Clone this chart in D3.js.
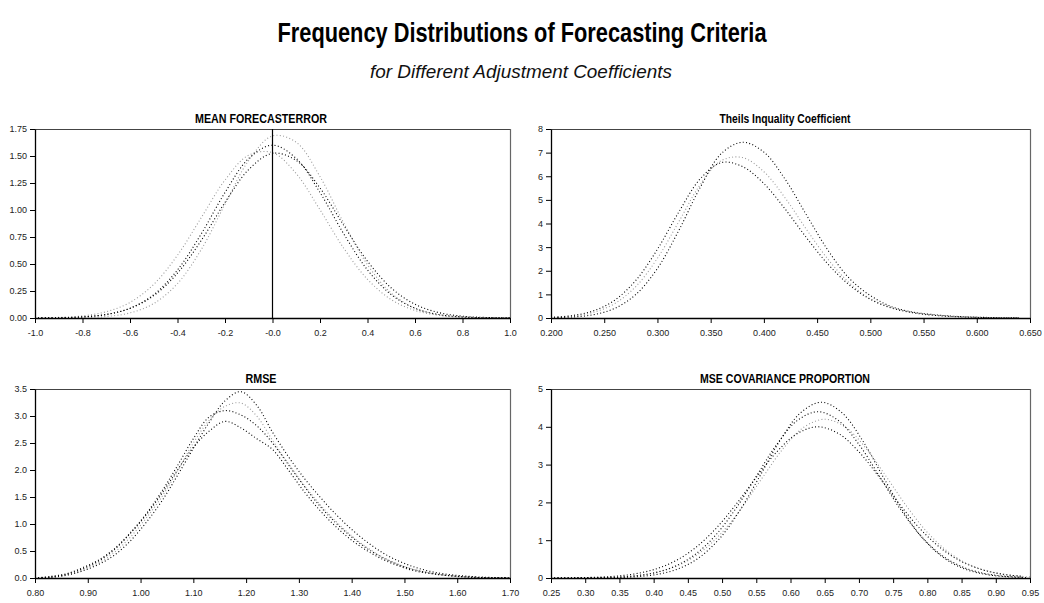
<!DOCTYPE html>
<html><head><meta charset="utf-8">
<script src="https://cdn.jsdelivr.net/npm/d3@7"></script>
<style>
body{margin:0;background:#fff}
text{font-family:"Liberation Sans Narrow","Arial Narrow","Liberation Sans",sans-serif}
</style>
</head><body>
<svg id="c" width="1044" height="603"></svg>
<script>
// ---------- Titles ----------
const mainTitle = "Frequency Distributions of Forecasting Criteria";
const subTitle = "for Different Adjustment Coefficients";
const panelTitles = ["MEAN FORECASTERROR","Theils Inquality Coefficient","RMSE","MSE COVARIANCE PROPORTION"];

// ---------- Panel 1: Mean forecast error ----------
const mfeX = [-1.0,-0.9,-0.8,-0.7,-0.6,-0.5,-0.4,-0.3,-0.2,-0.1,0.0,0.1,0.2,0.3,0.4,0.5,0.6,0.7,0.8,0.9,1.0];
const mfeA = [0.000,0.001,0.003,0.014,0.047,0.134,0.319,0.634,1.053,1.459,1.686,1.627,1.309,0.879,0.493,0.230,0.090,0.029,0.008,0.002,0.000];
const mfeB = [0.001,0.002,0.010,0.032,0.090,0.216,0.445,0.779,1.162,1.477,1.600,1.477,1.162,0.779,0.445,0.216,0.090,0.032,0.010,0.002,0.001];
const mfeC = [0.001,0.003,0.011,0.033,0.089,0.207,0.415,0.718,1.070,1.375,1.525,1.459,1.204,0.857,0.526,0.278,0.127,0.050,0.017,0.005,0.001];
const mfeD = [0.002,0.006,0.020,0.058,0.144,0.312,0.581,0.929,1.277,1.508,1.531,1.336,1.002,0.646,0.358,0.170,0.070,0.025,0.007,0.002,0.000];
const mfeXTicks = [-1.0,-0.8,-0.6,-0.4,-0.2,0.0,0.2,0.4,0.6,0.8,1.0];
const mfeXLabels = ["-1.0","-0.8","-0.6","-0.4","-0.2","-0.0","0.2","0.4","0.6","0.8","1.0"];
const mfeYTicks = [0,0.25,0.5,0.75,1.0,1.25,1.5,1.75];
const mfeYLabels = ["0.00","0.25","0.50","0.75","1.00","1.25","1.50","1.75"];

// ---------- Panel 2: Theil's inequality coefficient ----------
const thX = [0.20,0.22,0.24,0.26,0.28,0.30,0.32,0.34,0.36,0.38,0.40,0.42,0.44,0.46,0.48,0.50,0.52,0.54,0.56,0.58,0.60,0.62,0.64];
const thE = [0.010,0.041,0.141,0.410,1.008,2.10,3.70,5.51,6.96,7.44,7.02,5.87,4.36,2.88,1.69,0.95,0.48,0.25,0.14,0.07,0.035,0.015,0.006];
const thF = [0.023,0.081,0.240,0.614,1.346,2.53,4.07,5.63,6.66,6.79,6.19,5.08,3.75,2.50,1.50,0.81,0.45,0.24,0.13,0.065,0.030,0.012,0.004];
const thG = [0.030,0.104,0.305,0.759,1.61,2.91,4.48,5.88,6.58,6.41,5.69,4.61,3.40,2.29,1.41,0.79,0.42,0.22,0.11,0.055,0.025,0.010,0.004];
const thXTicks = [0.20,0.25,0.30,0.35,0.40,0.45,0.50,0.55,0.60,0.65];
const thXLabels = ["0.200","0.250","0.300","0.350","0.400","0.450","0.500","0.550","0.600","0.650"];
const thYTicks = [0,1,2,3,4,5,6,7,8];
const thYLabels = ["0","1","2","3","4","5","6","7","8"];

// ---------- Panel 3: RMSE ----------
const rmX = [0.80,0.83,0.86,0.89,0.92,0.95,0.98,1.01,1.04,1.07,1.10,1.13,1.16,1.19,1.22,1.25,1.28,1.31,1.34,1.37,1.40,1.43,1.46,1.49,1.52,1.55,1.58,1.61,1.64,1.67,1.70];
const rmH = [0.0,0.01,0.05,0.13,0.25,0.42,0.68,1.02,1.42,1.90,2.40,2.88,3.28,3.45,3.20,2.70,2.25,1.85,1.50,1.18,0.90,0.66,0.46,0.31,0.20,0.12,0.07,0.04,0.02,0.008,0.003];
const rmI = [0.0,0.02,0.06,0.15,0.28,0.47,0.75,1.10,1.50,1.98,2.50,2.92,3.18,3.24,3.00,2.55,2.12,1.72,1.36,1.05,0.78,0.56,0.38,0.25,0.15,0.09,0.05,0.025,0.01,0.004,0.001];
const rmJ = [0.0,0.03,0.08,0.19,0.33,0.54,0.83,1.18,1.60,2.08,2.58,2.98,3.10,3.02,2.82,2.50,2.10,1.70,1.33,1.02,0.76,0.54,0.37,0.24,0.15,0.09,0.05,0.025,0.01,0.004,0.001];
const rmK = [0.0,0.02,0.07,0.17,0.31,0.52,0.82,1.16,1.56,2.00,2.42,2.72,2.90,2.78,2.58,2.38,2.00,1.60,1.25,0.95,0.70,0.50,0.34,0.22,0.13,0.08,0.045,0.022,0.01,0.004,0.001];
const rmXTicks = [0.8,0.9,1.0,1.1,1.2,1.3,1.4,1.5,1.6,1.7];
const rmXLabels = ["0.80","0.90","1.00","1.10","1.20","1.30","1.40","1.50","1.60","1.70"];
const rmYTicks = [0,0.5,1.0,1.5,2.0,2.5,3.0,3.5];
const rmYLabels = ["0.0","0.5","1.0","1.5","2.0","2.5","3.0","3.5"];

// ---------- Panel 4: MSE covariance proportion ----------
const mcX  = [0.25,0.28,0.31,0.34,0.37,0.40,0.43,0.46,0.49,0.52,0.55,0.58,0.61,0.64,0.67,0.70,0.73,0.76,0.79,0.82,0.85,0.88,0.91,0.94];
const mcXL = [0.255,0.285,0.315,0.345,0.375,0.405,0.435,0.465,0.495,0.525,0.555,0.585,0.615,0.645,0.675,0.705,0.735,0.765,0.795,0.825,0.855,0.885,0.915,0.945];
const mcXN = [0.26,0.29,0.32,0.35,0.38,0.41,0.44,0.47,0.50,0.53,0.56,0.59,0.62,0.65,0.68,0.71,0.74,0.77,0.80,0.83,0.86,0.89,0.92,0.95];
const mcL = [0.000,0.001,0.003,0.011,0.034,0.095,0.236,0.520,1.016,1.757,2.688,3.646,4.375,4.650,4.375,3.646,2.688,1.757,1.016,0.520,0.236,0.095,0.034,0.011];
const mcM = [0.000,0.002,0.006,0.019,0.052,0.133,0.302,0.614,1.121,1.834,2.690,3.535,4.166,4.400,4.166,3.535,2.690,1.834,1.121,0.614,0.302,0.133,0.052,0.019];
const mcN = [0.001,0.003,0.010,0.029,0.074,0.173,0.365,0.698,1.207,1.891,2.681,3.440,3.995,4.200,3.995,3.440,2.681,1.891,1.207,0.698,0.365,0.173,0.074,0.029];
const mcO = [0.002,0.006,0.017,0.043,0.102,0.221,0.435,0.784,1.290,1.938,2.661,3.338,3.823,4.000,3.823,3.338,2.661,1.938,1.290,0.784,0.435,0.221,0.102,0.043];
const mcXTicks = [0.25,0.30,0.35,0.40,0.45,0.50,0.55,0.60,0.65,0.70,0.75,0.80,0.85,0.90,0.95];
const mcXLabels = ["0.25","0.30","0.35","0.40","0.45","0.50","0.55","0.60","0.65","0.70","0.75","0.80","0.85","0.90","0.95"];
const mcYTicks = [0,1,2,3,4,5];
const mcYLabels = ["0","1","2","3","4","5"];

const BLACK = "#000", GREY = "#9a9a9a";

const svg = d3.select("#c");

svg.append("text").attr("x",522).attr("y",42).attr("text-anchor","middle")
  .attr("font-size",27).attr("font-weight","bold").attr("fill","#000")
  .attr("textLength",489).attr("lengthAdjust","spacingAndGlyphs").text(mainTitle);
svg.append("text").attr("x",521).attr("y",78).attr("text-anchor","middle")
  .attr("font-size",18).attr("font-style","italic").attr("fill","#111")
  .attr("textLength",302).attr("lengthAdjust","spacingAndGlyphs").text(subTitle);

let clipId = 0;
function drawPanel(p){
  const g = svg.append("g");
  const x = d3.scaleLinear().domain([p.xTicks[0], p.xTicks[p.xTicks.length-1]]).range([p.left,p.right]);
  const y = d3.scaleLinear().domain([p.yTicks[0], p.yTicks[p.yTicks.length-1]]).range([p.bottom,p.top]);
  const cid = "clip" + (clipId++);
  svg.append("clipPath").attr("id",cid).append("rect")
    .attr("x",p.left).attr("y",p.top).attr("width",p.right-p.left).attr("height",p.bottom-p.top);

  g.append("line").attr("x1",p.left).attr("x2",p.right).attr("y1",p.top+0.5).attr("y2",p.top+0.5)
    .attr("stroke","#444").attr("stroke-width",1.2);
  g.append("line").attr("x1",p.right+0.5).attr("x2",p.right+0.5).attr("y1",p.top).attr("y2",p.bottom)
    .attr("stroke","#666").attr("stroke-width",1.2);

  const plot = g.append("g").attr("clip-path",`url(#${cid})`);
  p.series.forEach(s=>{
    const xs = s.xs || p.xs;
    const line = d3.line().x((d,i)=>x(xs[i])).y(d=>y(Math.max(0,d))).curve(d3.curveCatmullRom);
    plot.append("path").attr("d",line(s.values)).attr("fill","none")
      .attr("stroke",s.color).attr("stroke-width",1.1).attr("stroke-dasharray","1 2.3");
  });

  if(p.zeroLine){
    g.append("line").attr("x1",x(0)).attr("x2",x(0)).attr("y1",p.top).attr("y2",p.bottom)
      .attr("stroke","#000").attr("stroke-width",1.2);
  }

  const ax = d3.axisBottom(x).tickValues(p.xTicks).tickFormat((d,i)=>p.xLabels[i])
    .tickSizeInner(5).tickSizeOuter(0).tickPadding(7);
  const ay = d3.axisLeft(y).tickValues(p.yTicks).tickFormat((d,i)=>p.yLabels[i])
    .tickSizeInner(5).tickSizeOuter(0).tickPadding(3);
  const gx = g.append("g").attr("transform",`translate(0,${p.bottom})`).call(ax);
  const gy = g.append("g").attr("transform",`translate(${p.left},0)`).call(ay);
  [gx,gy].forEach(a=>{
    a.select(".domain").attr("stroke","#000").attr("stroke-width",1.3);
    a.selectAll(".tick line").attr("stroke","#000");
    a.selectAll(".tick text").attr("fill","#222").attr("font-size",9)
      .attr("font-family",'"Liberation Sans Narrow","Arial Narrow","Liberation Sans",sans-serif');
  });

  g.append("text").attr("x",p.titleX).attr("y",p.top-6).attr("text-anchor","middle")
    .attr("font-size",12).attr("font-weight","bold").attr("fill","#000")
    .attr("textLength",p.titleW).attr("lengthAdjust","spacingAndGlyphs").text(p.title);
}

drawPanel({left:35,right:510,top:129,bottom:318,xs:mfeX,xTicks:mfeXTicks,xLabels:mfeXLabels,
  yTicks:mfeYTicks,yLabels:mfeYLabels,title:panelTitles[0],titleX:261,titleW:132,zeroLine:true,
  series:[{values:mfeA,color:GREY},{values:mfeD,color:GREY},{values:mfeB,color:BLACK},{values:mfeC,color:BLACK}]});
drawPanel({left:551,right:1030,top:129,bottom:318,xs:thX,xTicks:thXTicks,xLabels:thXLabels,
  yTicks:thYTicks,yLabels:thYLabels,title:panelTitles[1],titleX:785,titleW:131,
  series:[{values:thF,color:GREY},{values:thE,color:BLACK},{values:thG,color:BLACK}]});
drawPanel({left:35,right:510,top:389,bottom:578,xs:rmX,xTicks:rmXTicks,xLabels:rmXLabels,
  yTicks:rmYTicks,yLabels:rmYLabels,title:panelTitles[2],titleX:261,titleW:31,
  series:[{values:rmI,color:GREY},{values:rmH,color:BLACK},{values:rmJ,color:BLACK},{values:rmK,color:BLACK}]});
drawPanel({left:551,right:1030,top:389,bottom:578,xs:mcX,xTicks:mcXTicks,xLabels:mcXLabels,
  yTicks:mcYTicks,yLabels:mcYLabels,title:panelTitles[3],titleX:785,titleW:170,
  series:[{values:mcN,xs:mcXN,color:GREY},{values:mcL,xs:mcXL,color:BLACK},{values:mcM,color:BLACK},{values:mcO,color:BLACK}]});
</script>
</body></html>
